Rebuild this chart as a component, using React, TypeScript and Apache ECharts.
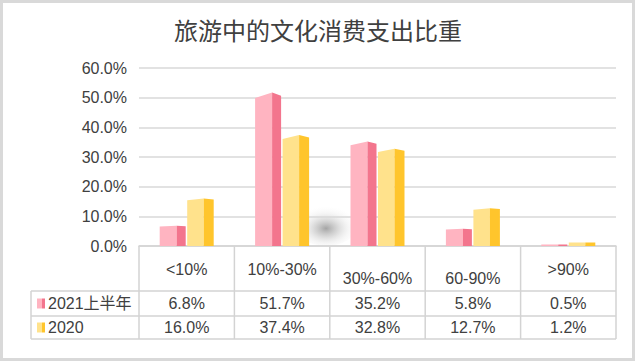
import React, { useEffect, useRef } from "react";
import * as echarts from "echarts";

const title = "旅游中的文化消费支出比重";
const categories = ["<10%", "10%-30%", "30%-60%", "60-90%", ">90%"];
const seriesNames = ["2021上半年", "2020"];
const values2021 = [6.8, 51.7, 35.2, 5.8, 0.5];
const values2020 = [16.0, 37.4, 32.8, 12.7, 1.2];
const lowHeaderIdx = [2, 3];

const W = 636;
const H = 362;
const GL = 139;
const GR = 616;
const GT = 68;
const GB = 246;
const ROW1 = 291;
const ROW2 = 316;
const TBOT = 339;
const LEGL = 31;

const PINK = ["#FFB4C1", "#F3758D"];
const YELLOW = ["#FFE28C", "#FFC52C"];
const TXT = "#404040";
const LINE = "#D3D3D3";
const FONT = "'Liberation Sans', 'Noto Sans CJK SC', sans-serif";

function makeRender(side: number, colors: string[]) {
  return (params: any, api: any) => {
    const cat = api.value(0);
    const val = api.value(1);
    const top = api.coord([cat, val]);
    const base = api.coord([cat, 0]);
    const cx = top[0];
    const yTop = top[1];
    const yBase = base[1];
    const x0 = side === 0 ? cx - 27 : cx + 0.5;
    const x1 = side === 0 ? cx - 10 : cx + 17;
    const x2 = side === 0 ? cx - 1 : cx + 27;
    const d = (yBase - yTop) * 0.035;
    return {
      type: "group",
      children: [
        {
          type: "polygon",
          shape: { points: [[x0, yTop + d], [x1, yTop], [x1, yBase], [x0, yBase]] },
          style: { fill: colors[0] },
        },
        {
          type: "polygon",
          shape: { points: [[x1, yTop], [x2, yTop + d * 0.6], [x2, yBase], [x1, yBase]] },
          style: { fill: colors[1] },
        },
      ],
    };
  };
}

export default function App() {
  const ref = useRef<HTMLDivElement>(null);
  useEffect(() => {
    if (!ref.current) return;
    const chart = echarts.init(ref.current, null, { renderer: "svg", width: W, height: H });
    const colW = (GR - GL) / categories.length;
    const graphics: any[] = [];
    graphics.push({
      type: "rect",
      shape: { x: 1.5, y: 1.5, width: W - 4, height: H - 4 },
      style: { fill: "none", stroke: "#D9D9D9", lineWidth: 3 },
      silent: true,
    });
    graphics.push({
      type: "ellipse",
      shape: { cx: 326, cy: 224, rx: 32, ry: 22 },
      style: {
        fill: new echarts.graphic.RadialGradient(0.5, 0.6, 0.5, [
          { offset: 0, color: "rgba(125,125,125,0.7)" },
          { offset: 0.35, color: "rgba(165,165,165,0.45)" },
          { offset: 0.7, color: "rgba(210,210,210,0.2)" },
          { offset: 1, color: "rgba(235,235,235,0)" },
        ]),
      },
      silent: true,
      z: -1,
    });
    const lineStyle = { stroke: LINE, lineWidth: 1.5 };
    for (let i = 0; i <= categories.length; i++) {
      const x = GL + i * colW;
      graphics.push({ type: "line", shape: { x1: x, y1: GB, x2: x, y2: TBOT }, style: lineStyle, silent: true });
    }
    graphics.push({ type: "line", shape: { x1: LEGL, y1: ROW1, x2: LEGL, y2: TBOT }, style: lineStyle, silent: true });
    [ROW1, ROW2, TBOT].forEach((y) => {
      graphics.push({ type: "line", shape: { x1: LEGL, y1: y, x2: GR, y2: y }, style: lineStyle, silent: true });
    });
    const rows = [values2021, values2020];
    const rowY = [303.5, 327.5];
    const cols = [PINK, YELLOW];
    rows.forEach((vals, r) => {
      graphics.push({ type: "rect", shape: { x: 37, y: rowY[r] - 5, width: 5, height: 10 }, style: { fill: cols[r][0] }, silent: true });
      graphics.push({ type: "rect", shape: { x: 42, y: rowY[r] - 5, width: 3, height: 10 }, style: { fill: cols[r][1] }, silent: true });
      graphics.push({
        type: "text",
        x: 48,
        y: rowY[r],
        style: { text: seriesNames[r], fill: TXT, font: `16px ${FONT}`, textAlign: "left", textVerticalAlign: "middle" },
        silent: true,
      });
      vals.forEach((v, i) => {
        graphics.push({
          type: "text",
          x: GL + (i + 0.5) * colW,
          y: rowY[r],
          style: { text: v.toFixed(1) + "%", fill: TXT, font: `16px ${FONT}`, textAlign: "center", textVerticalAlign: "middle" },
          silent: true,
        });
      });
    });

    chart.setOption({
      animation: false,
      title: {
        text: title,
        left: "center",
        top: 12,
        textStyle: { fontSize: 24, fontWeight: "normal", color: TXT, fontFamily: "'Noto Sans CJK SC', sans-serif" },
      },
      grid: { left: GL, right: W - GR, top: GT, bottom: H - GB },
      xAxis: {
        type: "category",
        data: categories,
        axisLine: { show: true, lineStyle: { color: LINE, width: 1.5 } },
        axisTick: { show: false },
        axisLabel: {
          margin: 15,
          color: TXT,
          fontSize: 16,
          fontFamily: FONT,
          interval: 0,
          formatter: (v: string, i: number) => (lowHeaderIdx.includes(i) ? `{low|${v}}` : `{n|${v}}`),
          rich: {
            n: { fontSize: 16, fontFamily: FONT, color: TXT },
            low: { fontSize: 16, fontFamily: FONT, color: TXT, padding: [9, 0, 0, 0] },
          },
        },
        splitLine: { show: false },
      },
      yAxis: {
        type: "value",
        min: 0,
        max: 60,
        interval: 10,
        axisLine: { show: false },
        axisTick: { show: false },
        axisLabel: {
          margin: 12,
          color: TXT,
          fontSize: 16,
          fontFamily: FONT,
          formatter: (v: number) => v.toFixed(1) + "%",
        },
        splitLine: { lineStyle: { color: "#D9D9D9", width: 1.5 } },
      },
      series: [
        {
          name: seriesNames[0],
          type: "custom",
          renderItem: makeRender(0, PINK),
          data: values2021.map((v, i) => [i, v]),
          encode: { x: 0, y: 1 },
          z: 3,
        },
        {
          name: seriesNames[1],
          type: "custom",
          renderItem: makeRender(1, YELLOW),
          data: values2020.map((v, i) => [i, v]),
          encode: { x: 0, y: 1 },
          z: 3,
        },
      ],
      graphic: graphics,
    });
    return () => chart.dispose();
  }, []);
  return (
    <div
      ref={ref}
      style={{ position: "fixed", left: 0, top: 0, width: W, height: H, background: "#fff" }}
    />
  );
}
